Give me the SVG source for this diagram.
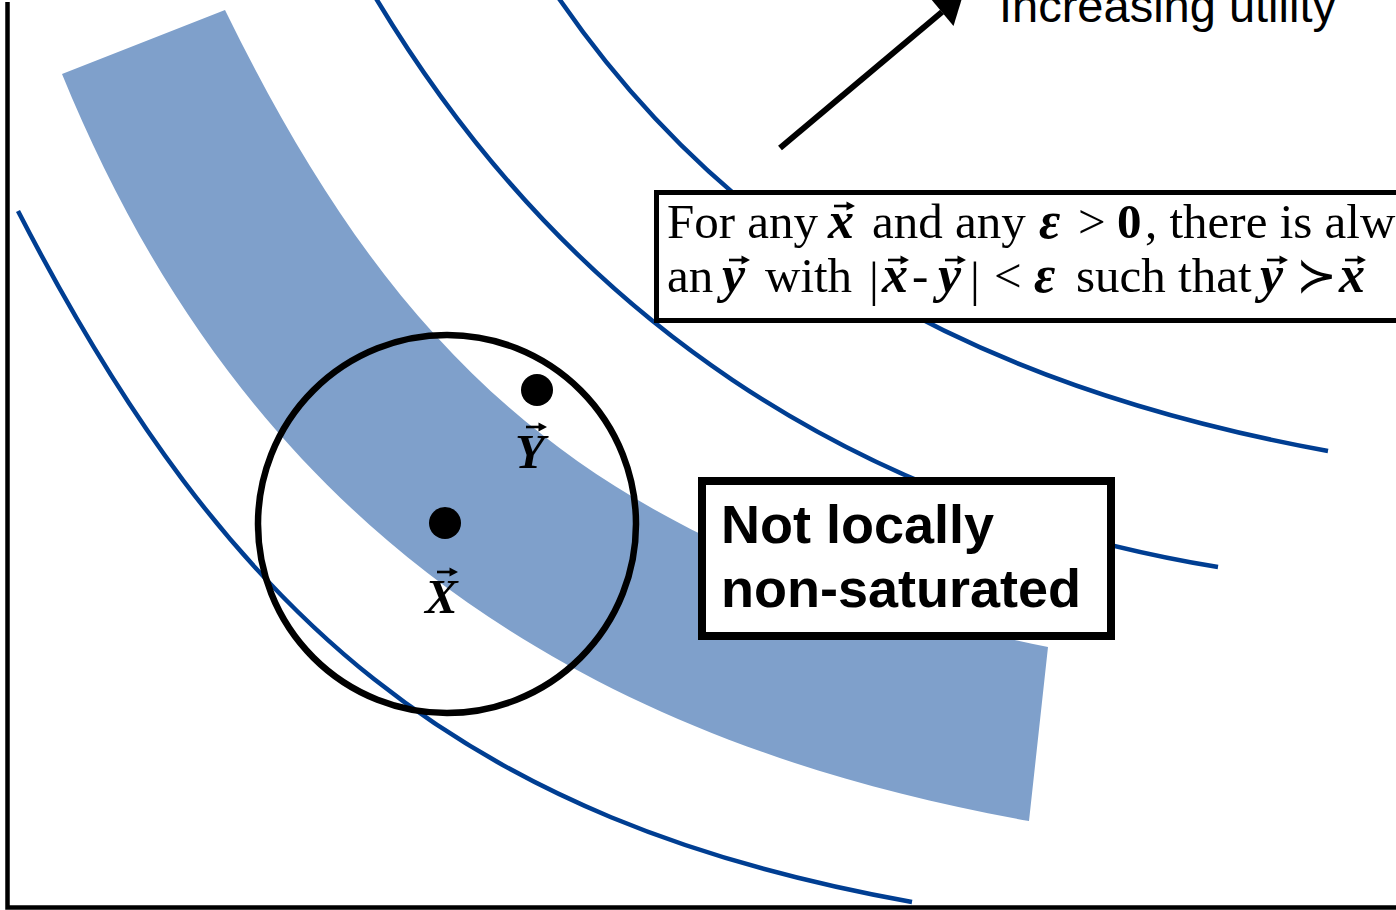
<svg xmlns="http://www.w3.org/2000/svg" xmlns:xlink="http://www.w3.org/1999/xlink" width="1396" height="910" viewBox="0 0 1396 910">
<defs>
<style>
.axis{stroke:#000;stroke-width:4.5;fill:none}
.curve{fill:none;stroke:#003E92;stroke-width:4.5}
.band{fill:#7FA0CB;stroke:none}
.box{fill:#fff;stroke:#000}
.serif{font-family:"Liberation Serif","Times New Roman",serif;font-size:49px;fill:#000}
.bi{font-weight:bold;font-style:italic}
.b{font-weight:bold}
.sans{font-family:"Liberation Sans",Arial,sans-serif;fill:#000}
</style>
<g id="vec"><path d="M0,0 H15" stroke="#000" stroke-width="2.6" fill="none"/><path d="M12.5,-4.5 L21,0 L12.5,4.5 Z" fill="#000"/></g>
</defs>
<rect width="1396" height="910" fill="#fff"/>
<g id="axes">
<path class="axis" d="M7.5,2 V907.5 H1396"/>
</g>
<g id="band">
<path class="band" d="M62,74 L225,10 C394.4,355.7 587.4,553 1048,647 L1029,821 C516.8,730 224.5,472.2 62,74 Z"/>
</g>
<g id="curves">
<path id="curve1" class="curve" d="M18,211 C228.7,620 459.4,820.6 912,902"/>
<path id="curve2" class="curve" d="M370,-11 L377,0 C568,317 853,506.7 1218,567"/>
<path id="curve3" class="curve" d="M553,-10 L560,0 C730.4,246.9 973.8,386.2 1328,451"/>
</g>
<g id="neighbourhood">
<circle cx="447" cy="524" r="189" fill="none" stroke="#000" stroke-width="6.5"/>
</g>
<g id="pointY">
<circle cx="537" cy="390" r="16" fill="#000"/>
<text class="serif bi" x="515" y="468" font-size="48">Y</text>
<use xlink:href="#vec" href="#vec" x="526" y="427"/>
</g>
<g id="pointX">
<circle cx="445" cy="523" r="16" fill="#000"/>
<text class="serif bi" x="425" y="613" font-size="48">X</text>
<use xlink:href="#vec" href="#vec" x="437" y="572"/>
</g>
<g id="definition">
<rect class="box" x="656.5" y="192.5" width="760" height="128" stroke-width="5"/>
<text class="serif" y="238"><tspan x="667">For any</tspan><tspan class="bi" x="828" font-size="52">x</tspan><tspan x="872">and any</tspan><tspan class="bi" x="1039" font-size="52">ε</tspan><tspan x="1078">&gt;</tspan><tspan class="b" x="1117">0</tspan><tspan x="1145">, there is always</tspan></text>
<use xlink:href="#vec" href="#vec" x="834" y="206"/>
<text class="serif" y="292"><tspan x="667">an</tspan><tspan class="bi" x="722" font-size="52">y</tspan><tspan x="765">with</tspan><tspan class="bi" x="882" font-size="52">x</tspan><tspan x="912">-</tspan><tspan class="bi" x="938" font-size="52">y</tspan><tspan x="994">&lt;</tspan><tspan class="bi" x="1034" font-size="52">ε</tspan><tspan x="1076">such that</tspan><tspan class="bi" x="1260" font-size="52">y</tspan><tspan x="1296">≻</tspan><tspan class="bi" x="1339" font-size="52">x</tspan></text>
<text class="serif" y="296" font-size="60"><tspan x="869">|</tspan><tspan x="970">|</tspan></text>
<use xlink:href="#vec" href="#vec" x="729" y="260"/>
<use xlink:href="#vec" href="#vec" x="888" y="260"/>
<use xlink:href="#vec" href="#vec" x="945" y="260"/>
<use xlink:href="#vec" href="#vec" x="1267" y="260"/>
<use xlink:href="#vec" href="#vec" x="1345" y="260"/>
</g>
<g id="label">
<rect class="box" x="702" y="481" width="409" height="155" stroke-width="8"/>
<text class="sans" font-weight="bold" font-size="54" x="721" y="543">Not locally</text>
<text class="sans" font-weight="bold" font-size="54" x="721" y="607">non-saturated</text>
</g>
<g id="connectors">
<path d="M780,148 L942,12" stroke="#000" stroke-width="6" fill="none"/>
<polygon points="964,-8.3 953.5,25.9 928.5,-3.9" fill="#000"/>
</g>
<g id="caption">
<text class="sans" font-size="47" x="999" y="22">Increasing utility</text>
</g>
</svg>
